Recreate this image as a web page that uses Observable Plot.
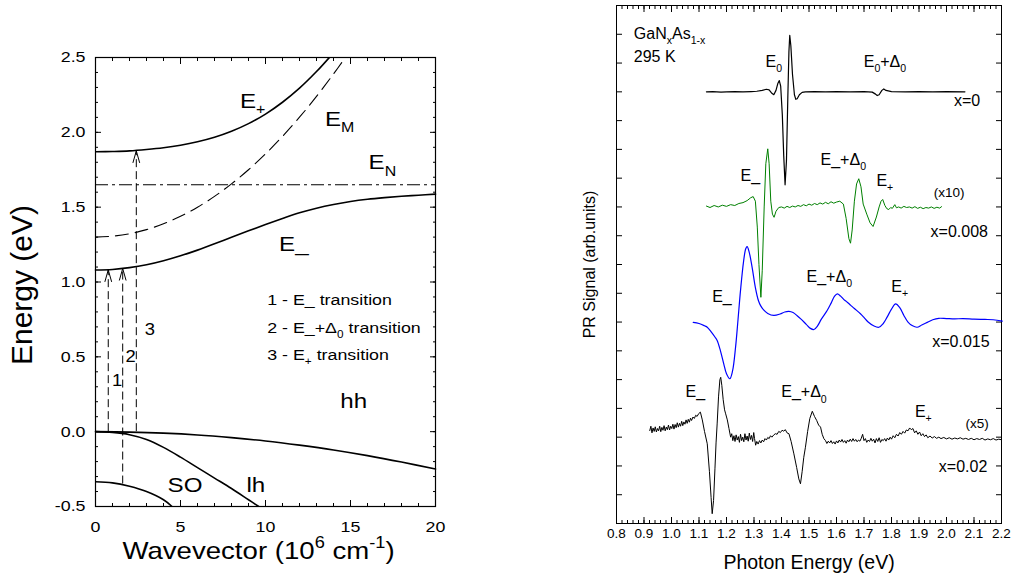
<!DOCTYPE html>
<html><head><meta charset="utf-8">
<script src="https://cdn.jsdelivr.net/npm/d3@7"></script>
<script src="https://cdn.jsdelivr.net/npm/@observablehq/plot@0.6"></script>
<style>
body{margin:0;background:#fff;font-family:"Liberation Sans",Arial,sans-serif}
#wrap{position:relative;width:1013px;height:584px;overflow:hidden}
#left{position:absolute;left:0;top:0}
#right{position:absolute;left:470px;top:0}
</style></head>
<body><div id="wrap"><div id="left"></div><div id="right"></div></div>
<script>
// ---------- Left panel: band structure (BAC model) ----------
const kGrid  = [0,1,2,3,4,5,6,7,8,9,10,11,12,13,14,15,16,17,18,19,20];
const eMinus = [1.080,1.084,1.096,1.115,1.142,1.175,1.213,1.255,1.299,1.342,1.384,1.424,1.462,1.493,1.518,1.538,1.553,1.564,1.573,1.580,1.587];
const kPlus  = [0,1,2,3,4,5,6,7,8,9,10,11,12,13,13.8];
const ePlus  = [1.870,1.872,1.876,1.885,1.897,1.914,1.937,1.967,2.007,2.058,2.122,2.201,2.295,2.406,2.506];
const kMid   = [0,1,2,3,4,5,6,7,8,9,10,11,12,13,14,14.7];
const eMid   = [1.300,1.306,1.322,1.350,1.389,1.439,1.500,1.572,1.656,1.750,1.856,1.973,2.101,2.240,2.390,2.500];
const eNlevel = [1.65];
const kHH = [0,2,4,6,8,10,12,14,16,18,20];
const eHH = [0,-0.003,-0.010,-0.022,-0.040,-0.062,-0.090,-0.122,-0.160,-0.203,-0.250];
const kLH = [0,1,2,3,4,5,6,7,8,9,9.6];
const eLH = [0,-0.005,-0.020,-0.052,-0.105,-0.170,-0.240,-0.310,-0.380,-0.455,-0.500];
const kSO = [0,1,2,3,4,4.5];
const eSO = [-0.335,-0.342,-0.365,-0.400,-0.455,-0.500];

const transK    = [0.75, 1.6, 2.4];
const transFrom = [0, -0.35, 0];
const transTo   = [1.081, 1.090, 1.876];
const transNum  = ["1","2","3"];
const transNumK = [1.27, 2.06, 3.2];
const transNumE = [0.34, 0.50, 0.68];

const bandLabels = ["E~{+}","E~{M}","E~{N}","E_","hh","SO","lh"];
const bandLabelK = [8.5, 13.5, 16.06, 10.8, 14.4, 4.24, 8.88];
const bandLabelE = [2.21, 2.09, 1.80, 1.255, 0.20, -0.355, -0.355];

const legendLines = ["1 - E_ transition","2 - E_+Δ~{0} transition","3 - E~{+} transition"];
const legendK = [10.1, 10.1, 10.1];
const legendE = [0.88, 0.693, 0.513];

const leftXMajor = [0,5,10,15,20];
const leftYMajor = [-0.5,0,0.5,1,1.5,2,2.5];

// ---------- Right panel: PR spectra ----------
const spec0 = [[1.127,15.00],[1.15,15.01],[1.18,14.99],[1.20,15.00],[1.23,15.01],[1.26,15.00],[1.29,15.01],[1.31,15.02],[1.33,15.05],[1.345,15.09],[1.355,15.07],[1.365,14.95],[1.372,14.90],[1.380,15.05],[1.387,15.30],[1.392,15.39],[1.397,15.2],[1.403,14.2],[1.408,12.8],[1.413,11.77],[1.418,12.6],[1.423,14.8],[1.427,16.4],[1.430,16.96],[1.434,16.6],[1.440,15.6],[1.447,14.9],[1.452,14.74],[1.457,14.76],[1.465,14.90],[1.475,14.98],[1.487,15.0],[1.52,15.01],[1.56,15.00],[1.60,15.01],[1.65,15.00],[1.70,15.01],[1.73,14.99],[1.742,14.92],[1.748,14.87],[1.755,14.9],[1.765,15.05],[1.772,15.1],[1.78,15.05],[1.80,15.01],[1.85,15.00],[1.90,15.01],[1.95,15.00],[2.00,15.01],[2.067,15.00]];
const spec008 = [[1.127,11.03],[1.14,10.98],[1.155,11.05],[1.17,11.0],[1.185,11.06],[1.20,11.02],[1.215,11.08],[1.23,11.05],[1.245,11.12],[1.26,11.15],[1.275,11.22],[1.288,11.32],[1.297,11.36],[1.305,11.2],[1.312,10.3],[1.318,9.0],[1.325,7.86],[1.330,8.8],[1.337,11.0],[1.343,12.5],[1.350,13.02],[1.355,12.5],[1.361,11.2],[1.367,10.75],[1.373,10.64],[1.380,10.85],[1.39,10.98],[1.40,11.0],[1.41,10.96],[1.42,11.02],[1.43,10.98],[1.44,11.03],[1.45,11.0],[1.46,11.05],[1.47,11.02],[1.48,11.08],[1.49,11.04],[1.50,11.1],[1.51,11.06],[1.52,11.12],[1.53,11.08],[1.54,11.14],[1.55,11.1],[1.56,11.16],[1.57,11.11],[1.58,11.18],[1.59,11.13],[1.60,11.17],[1.612,11.2],[1.625,11.1],[1.635,10.6],[1.645,9.9],[1.651,9.74],[1.657,10.2],[1.665,11.2],[1.673,11.8],[1.681,11.98],[1.689,11.7],[1.697,11.1],[1.710,10.75],[1.722,10.45],[1.733,10.32],[1.745,10.65],[1.755,11.0],[1.762,11.2],[1.768,11.26],[1.776,11.05],[1.783,10.94],[1.790,10.91],[1.797,10.98],[1.803,10.95],[1.812,11.08],[1.818,10.97],[1.826,11.0],[1.835,10.96],[1.845,11.02],[1.855,10.98],[1.865,11.0],[1.875,10.96],[1.885,11.01],[1.895,10.95],[1.905,10.99],[1.915,10.94],[1.925,10.98],[1.935,10.96],[1.945,11.0],[1.955,10.95],[1.965,10.99],[1.975,10.96],[1.982,11.01]];
const spec015 = [[1.079,6.99],[1.10,6.95],[1.12,6.87],[1.130,6.82],[1.145,6.65],[1.158,6.48],[1.166,6.36],[1.178,6.0],[1.190,5.55],[1.200,5.2],[1.212,5.03],[1.222,5.3],[1.233,6.13],[1.242,7.1],[1.251,8.10],[1.262,9.1],[1.270,9.55],[1.275,9.62],[1.282,9.45],[1.293,8.91],[1.305,8.2],[1.316,7.75],[1.324,7.57],[1.335,7.42],[1.350,7.3],[1.372,7.23],[1.395,7.28],[1.412,7.35],[1.427,7.37],[1.442,7.33],[1.457,7.22],[1.470,7.11],[1.49,6.92],[1.505,6.78],[1.518,6.74],[1.530,6.85],[1.545,7.1],[1.566,7.40],[1.580,7.65],[1.593,7.9],[1.603,7.98],[1.615,7.9],[1.627,7.78],[1.639,7.69],[1.652,7.58],[1.665,7.47],[1.687,7.29],[1.699,7.17],[1.715,7.0],[1.735,6.87],[1.754,6.82],[1.770,6.95],[1.784,7.17],[1.800,7.45],[1.815,7.63],[1.830,7.5],[1.845,7.23],[1.860,7.0],[1.875,6.88],[1.893,6.82],[1.910,6.9],[1.930,6.99],[1.950,7.08],[1.972,7.13],[2.00,7.12],[2.03,7.11],[2.06,7.12],[2.10,7.1],[2.14,7.09],[2.17,7.08],[2.203,7.03]];
const spec02 = [[0.921,3.23],[0.925,3.38],[0.929,3.15],[0.933,3.32],[0.937,3.20],[0.941,3.36],[0.945,3.18],[0.949,3.30],[0.953,3.22],[0.957,3.38],[0.961,3.19],[0.965,3.34],[0.969,3.24],[0.973,3.40],[0.977,3.22],[0.981,3.35],[0.985,3.26],[0.989,3.42],[0.993,3.25],[0.997,3.38],[1.001,3.30],[1.005,3.45],[1.009,3.28],[1.013,3.44],[1.017,3.33],[1.021,3.50],[1.025,3.35],[1.029,3.48],[1.033,3.38],[1.037,3.55],[1.041,3.40],[1.045,3.53],[1.049,3.45],[1.053,3.60],[1.057,3.48],[1.061,3.62],[1.065,3.52],[1.069,3.66],[1.073,3.58],[1.078,3.70],[1.083,3.65],[1.088,3.76],[1.093,3.72],[1.099,3.82],[1.105,3.87],[1.112,3.6],[1.120,3.2],[1.130,2.77],[1.138,1.8],[1.144,0.9],[1.148,0.34],[1.153,0.8],[1.158,1.9],[1.162,2.8],[1.166,3.46],[1.171,4.4],[1.176,5.0],[1.179,5.08],[1.183,4.8],[1.188,4.3],[1.193,3.95],[1.197,3.81],[1.203,3.6],[1.209,3.3],[1.215,3.0],[1.219,3.12],[1.223,2.88],[1.227,3.05],[1.231,2.85],[1.235,3.08],[1.239,2.9],[1.243,3.02],[1.247,2.82],[1.251,3.1],[1.255,2.88],[1.259,3.0],[1.263,2.84],[1.267,3.12],[1.271,2.9],[1.275,3.04],[1.279,2.86],[1.283,3.14],[1.287,2.92],[1.291,3.06],[1.295,2.85],[1.299,3.16],[1.302,2.95],[1.306,2.72],[1.310,2.85],[1.315,2.76],[1.320,2.88],[1.325,2.8],[1.330,2.9],[1.335,2.84],[1.340,2.95],[1.345,2.9],[1.350,2.99],[1.355,2.95],[1.360,3.05],[1.365,3.0],[1.372,3.08],[1.378,3.12],[1.384,3.1],[1.390,3.2],[1.396,3.16],[1.402,3.24],[1.408,3.21],[1.414,3.26],[1.420,3.15],[1.427,3.12],[1.435,2.85],[1.445,2.42],[1.455,1.95],[1.463,1.55],[1.469,1.38],[1.475,1.8],[1.481,2.3],[1.487,2.65],[1.495,3.2],[1.503,3.65],[1.512,3.90],[1.520,3.72],[1.528,3.58],[1.535,3.42],[1.542,3.35],[1.548,3.1],[1.554,2.95],[1.560,2.88],[1.565,2.78],[1.570,2.86],[1.575,2.80],[1.580,2.88],[1.585,2.78],[1.590,2.84],[1.595,2.76],[1.600,2.87],[1.605,2.8],[1.610,2.9],[1.615,2.83],[1.620,2.92],[1.625,2.82],[1.630,2.88],[1.635,2.79],[1.640,2.9],[1.645,2.84],[1.650,2.93],[1.655,2.85],[1.660,2.95],[1.665,2.86],[1.670,2.92],[1.675,2.84],[1.680,2.9],[1.685,2.86],[1.690,2.96],[1.695,3.1],[1.700,2.88],[1.705,2.95],[1.710,2.82],[1.715,2.9],[1.720,2.85],[1.725,2.96],[1.730,2.86],[1.735,2.93],[1.740,2.80],[1.745,2.95],[1.750,2.85],[1.755,2.98],[1.760,2.82],[1.765,2.92],[1.770,2.88],[1.775,2.95],[1.780,2.86],[1.785,2.97],[1.790,2.9],[1.795,3.0],[1.800,2.93],[1.806,3.05],[1.812,2.98],[1.818,3.1],[1.824,3.04],[1.830,3.16],[1.836,3.1],[1.842,3.2],[1.848,3.14],[1.854,3.25],[1.860,3.22],[1.866,3.32],[1.872,3.26],[1.878,3.3],[1.884,3.15],[1.890,3.22],[1.896,3.1],[1.902,3.18],[1.908,3.05],[1.914,3.12],[1.920,3.02],[1.926,3.08],[1.932,2.98],[1.940,3.04],[1.948,2.97],[1.956,3.02],[1.964,2.96],[1.972,3.0],[1.980,2.95],[1.990,2.99],[2.000,2.94],[2.010,2.98],[2.020,2.93],[2.030,2.97],[2.040,2.94],[2.050,2.98],[2.060,2.93],[2.070,2.96],[2.080,2.92],[2.090,2.96],[2.100,2.91],[2.110,2.95],[2.120,2.92],[2.130,2.96],[2.140,2.9],[2.150,2.94],[2.160,2.91],[2.170,2.95],[2.180,2.9],[2.190,2.93],[2.200,2.91]];

const rightLabels = ["GaN~{x}As~{1-x}","295 K","E~{0}","E~{0}+Δ~{0}","x=0","E_","E_+Δ~{0}","E~{+}","x=0.008","E_","E_+Δ~{0}","E~{+}","x=0.015","E_","E_+Δ~{0}","E~{+}","x=0.02"];
const rightLabelE = [0.863,0.863,1.342,1.699,2.027,1.251,1.542,1.745,1.942,1.148,1.491,1.799,1.948,1.051,1.399,1.885,1.972];
const rightLabelU = [17.02,16.2,16.03,16.03,14.70,12.09,12.64,11.92,10.12,7.86,8.56,8.21,6.30,4.56,4.56,3.87,1.96];
const scaleNotes  = ["(x10)","(x5)"];
const scaleNoteE  = [1.954, 2.069];
const scaleNoteU  = [11.49, 3.46];
const rightXMajor = [0.8,0.9,1.0,1.1,1.2,1.3,1.4,1.5,1.6,1.7,1.8,1.9,2.0,2.1,2.2];

const FONT = "Liberation Sans, Arial, Helvetica, sans-serif";

// open arrowhead symbol (tip at the point)
const arrowHead = { draw(ctx) { ctx.moveTo(-3.4, 12); ctx.lineTo(0, 0); ctx.lineTo(3.4, 12); } };

const pts = (xs, ys) => xs.map((x, i) => ({x, y: ys[i]}));
const trans = transK.map((k, i) => ({k, from: transFrom[i], to: transTo[i]}));

// ---------- Build left ----------
const leftPlot = Plot.plot({
  width: 470, height: 584,
  marginLeft: 95, marginRight: 35, marginTop: 57, marginBottom: 78,
  x: {domain: [0, 20]}, y: {domain: [-0.5, 2.5]},
  style: {fontFamily: FONT, fontSize: "15px", color: "black", background: "white", overflow: "visible"},
  marks: [
    // minor/major ticks (inward) on all four sides
    Plot.axisX(d3.ticks(0, 20, 20), {anchor: "bottom", tickSize: -3, fill: "none"}),
    Plot.axisX(leftXMajor, {anchor: "bottom", tickSize: -6, fill: "none"}),
    Plot.axisX(d3.ticks(0, 20, 20), {anchor: "top", tickSize: -3, fill: "none"}),
    Plot.axisX(leftXMajor, {anchor: "top", tickSize: -6, fill: "none"}),
    Plot.axisY(d3.ticks(-0.5, 2.5, 30), {anchor: "left", tickSize: -3, fill: "none"}),
    Plot.axisY(leftYMajor, {anchor: "left", tickSize: -6, fill: "none"}),
    Plot.axisY(d3.ticks(-0.5, 2.5, 30), {anchor: "right", tickSize: -3, fill: "none"}),
    Plot.axisY(leftYMajor, {anchor: "right", tickSize: -6, fill: "none"}),
    Plot.axisX(leftXMajor, {anchor: "bottom", tickSize: 0, tickPadding: 14, fontSize: 15.5, label: null, tickFormat: d => String(d)}),
    Plot.axisY(leftYMajor, {anchor: "left", tickSize: 0, tickPadding: 10, fontSize: 15.5, label: null, tickFormat: d => d.toFixed(1)}),
    Plot.frame({stroke: "black", strokeWidth: 1.2}),
    // bands
    Plot.ruleY(eNlevel, {stroke: "black", strokeWidth: 1.1, strokeDasharray: "13,4,3,4"}),
    Plot.line(pts(kMid, eMid), {x: "x", y: "y", curve: "catmull-rom", stroke: "black", strokeWidth: 1.1, strokeDasharray: "13,7", clip: true}),
    Plot.line(pts(kPlus, ePlus), {x: "x", y: "y", curve: "catmull-rom", stroke: "black", strokeWidth: 1.6, clip: true}),
    Plot.line(pts(kGrid, eMinus), {x: "x", y: "y", curve: "catmull-rom", stroke: "black", strokeWidth: 1.6}),
    Plot.line(pts(kHH, eHH), {x: "x", y: "y", curve: "catmull-rom", stroke: "black", strokeWidth: 1.6}),
    Plot.line(pts(kLH, eLH), {x: "x", y: "y", curve: "catmull-rom", stroke: "black", strokeWidth: 1.6, clip: true}),
    Plot.line(pts(kSO, eSO), {x: "x", y: "y", curve: "catmull-rom", stroke: "black", strokeWidth: 1.6, clip: true}),
    // transitions
    Plot.ruleX(trans, {x: "k", y1: "from", y2: "to", stroke: "black", strokeWidth: 1, strokeDasharray: "8,4"}),
    Plot.dot(trans, {x: "k", y: "to", symbol: arrowHead, fill: "none", stroke: "black", strokeWidth: 1}),
    Plot.text(transNum, {x: (d, i) => transNumK[i], y: (d, i) => transNumE[i], text: d => d, fontSize: 16, textAnchor: "middle"}),
    // labels
    Plot.text(bandLabels, {x: (d, i) => bandLabelK[i], y: (d, i) => bandLabelE[i], text: d => d, fontSize: 21, textAnchor: "start"}),
    Plot.text(legendLines, {x: (d, i) => legendK[i], y: (d, i) => legendE[i], text: d => d, fontSize: 15.5, textAnchor: "start"}),
    // axis titles
    Plot.text(["Wavevector (10^{6} cm^{-1})"], {frameAnchor: "bottom", dy: 52, dx: -7, fontSize: 24, textAnchor: "middle"}),
    Plot.text(["Energy (eV)"], {frameAnchor: "left", rotate: -90, dx: -73, dy: 3, fontSize: 30, textAnchor: "middle"})
  ]
});

// ---------- Build right ----------
const rightPlot = Plot.plot({
  width: 543, height: 584,
  marginLeft: 146, marginRight: 12, marginTop: 5, marginBottom: 61,
  x: {domain: [0.8, 2.2]}, y: {domain: [0, 18]},
  style: {fontFamily: FONT, fontSize: "14px", color: "black", background: "white", overflow: "visible"},
  marks: [
    Plot.axisX(d3.ticks(0.8, 2.2, 70), {anchor: "bottom", tickSize: -3, fill: "none"}),
    Plot.axisX(rightXMajor, {anchor: "bottom", tickSize: -6, fill: "none"}),
    Plot.axisX(d3.ticks(0.8, 2.2, 70), {anchor: "top", tickSize: -3, fill: "none"}),
    Plot.axisX(rightXMajor, {anchor: "top", tickSize: -6, fill: "none"}),
    Plot.axisY(d3.ticks(0, 18, 18), {anchor: "left", tickSize: -6, fill: "none"}),
    Plot.axisY(d3.ticks(0, 18, 18), {anchor: "right", tickSize: -6, fill: "none"}),
    Plot.axisX(rightXMajor, {anchor: "bottom", tickSize: 0, tickPadding: 5, fontSize: 13.5, label: null, tickFormat: d => d.toFixed(1)}),
    Plot.frame({stroke: "black", strokeWidth: 1}),
    Plot.line(spec0,   {x: d => d[0], y: d => d[1], stroke: "black",   strokeWidth: 1.2}),
    Plot.line(spec008, {x: d => d[0], y: d => d[1], stroke: "#008000", strokeWidth: 1}),
    Plot.line(spec015, {x: d => d[0], y: d => d[1], stroke: "#0000ff", strokeWidth: 1.2, curve: "catmull-rom"}),
    Plot.line(spec02,  {x: d => d[0], y: d => d[1], stroke: "black",   strokeWidth: 1}),
    Plot.text(rightLabels, {x: (d, i) => rightLabelE[i], y: (d, i) => rightLabelU[i], text: d => d, fontSize: 16, textAnchor: "start"}),
    Plot.text(scaleNotes, {x: (d, i) => scaleNoteE[i], y: (d, i) => scaleNoteU[i], text: d => d, fontSize: 13.5, textAnchor: "start"}),
    Plot.text(["Photon Energy (eV)"], {frameAnchor: "bottom", dy: 45, fontSize: 19.5, textAnchor: "middle"}),
    Plot.text(["PR Signal (arb.units)"], {frameAnchor: "left", rotate: -90, dx: -27, fontSize: 16, textAnchor: "middle"})
  ]
});

document.getElementById("left").appendChild(leftPlot);
document.getElementById("right").appendChild(rightPlot);

// rich text: ~{..} subscript, ^{..} superscript
function richText(svg) {
  const ns = "http://www.w3.org/2000/svg";
  svg.querySelectorAll("text").forEach(t => {
    const s = t.textContent;
    if (!/[~^]\{/.test(s)) return;
    const fs = parseFloat(getComputedStyle(t).fontSize) || 14;
    t.textContent = "";
    const re = /([~^])\{([^}]*)\}/g;
    let last = 0, m, pending = 0;
    const add = (txt, attrs) => {
      const sp = document.createElementNS(ns, "tspan");
      sp.textContent = txt;
      for (const k in attrs) sp.setAttribute(k, attrs[k]);
      t.appendChild(sp);
    };
    while ((m = re.exec(s))) {
      if (m.index > last) { add(s.slice(last, m.index), pending ? {dy: -pending} : {}); pending = 0; }
      const off = m[1] === "~" ? 0.32 * fs : -0.42 * fs;
      add(m[2], {"font-size": 0.66 * fs, dy: off - pending});
      pending = off;
      last = re.lastIndex;
    }
    if (last < s.length) add(s.slice(last), pending ? {dy: -pending} : {});
  });
}
richText(leftPlot);
richText(rightPlot);

// horizontal stretch of left-panel lettering (as in the original figure)
leftPlot.querySelectorAll("text").forEach(t => {
  const tr = t.getAttribute("transform");
  if (tr && !tr.includes("rotate")) t.setAttribute("transform", tr + " scale(1.15,1)");
});
</script>
</body></html>
